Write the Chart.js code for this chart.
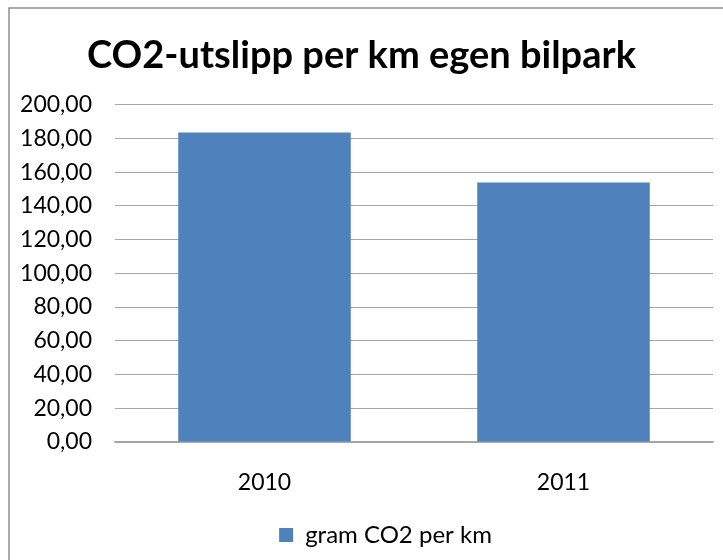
<!DOCTYPE html>
<html>
<head>
<meta charset="utf-8">
<script src="https://cdn.jsdelivr.net/npm/chart.js@4"></script>
<style>
  html, body { margin: 0; padding: 0; background: #fff; }
  #wrap { width: 723px; height: 560px; position: relative; }
</style>
</head>
<body>
<div id="wrap"><canvas id="co2Chart" width="723" height="560"></canvas></div>
<script>
// ── Data ─────────────────────────────────────────────
const years     = ["2010", "2011"];
const gramPerKm = [183.5, 153.8];
const seriesLabel = "gram CO2 per km";
const chartTitle  = "CO2-utslipp per km egen bilpark";

const FONT = "Lato, 'Open Sans', sans-serif";

// outer frame like the spreadsheet chart border (right/bottom cropped off)
const framePlugin = {
  id: "frame",
  afterLayout(chart) {
    // the original legend sits a bit right of centre (frame is wider than the crop)
    if (chart.legend) {
      chart.legend.left += 24;
      chart.legend.right += 24;
    }
  },
  beforeDraw(chart) {
    const c = chart.ctx;
    c.save();
    c.strokeStyle = "#8e8e8e";
    c.lineWidth = 1.5;
    c.beginPath();
    c.moveTo(9, chart.height);
    c.lineTo(9, 8);
    c.lineTo(chart.width, 8);
    c.stroke();
    c.restore();
  }
};

new Chart(document.getElementById("co2Chart"), {
  type: "bar",
  data: {
    labels: years,
    datasets: [{
      label: seriesLabel,
      data: gramPerKm,
      backgroundColor: "#4f81bd",
      borderWidth: 0,
      categoryPercentage: 1,
      barPercentage: 0.577,
    }],
  },
  options: {
    responsive: false,
    animation: false,
    layout: { padding: { left: 10, right: 10, top: 0, bottom: 3 } },
    plugins: {
      title: {
        display: true,
        text: chartTitle,
        color: "#000",
        font: { family: FONT, size: 38, weight: "bold" },
        padding: { top: 33, bottom: 26 },
      },
      legend: {
        position: "bottom",
        labels: {
          color: "#000",
          font: { family: FONT, size: 24 },
          boxWidth: 14,
          boxHeight: 14,
        },
      },
      tooltip: { enabled: false },
    },
    scales: {
      x: {
        afterFit: (s) => { s.height = 71; },
        grid: { display: false },
        border: { color: "#a6a6a6", width: 1.5 },
        ticks: { color: "#000", font: { family: FONT, size: 23 }, padding: 19 },
      },
      y: {
        min: 0,
        max: 200,
        afterFit: (s) => { s.width = 105; },
        grid: { color: "#a6a6a6", lineWidth: 1, drawTicks: false },
        border: { display: false },
        ticks: {
          stepSize: 20,
          padding: 23,
          color: "#000",
          font: { family: FONT, size: 23 },
          callback: (v) => v.toFixed(2).replace(".", ","),
        },
      },
    },
  },
  plugins: [framePlugin],
});
</script>
</body>
</html>
